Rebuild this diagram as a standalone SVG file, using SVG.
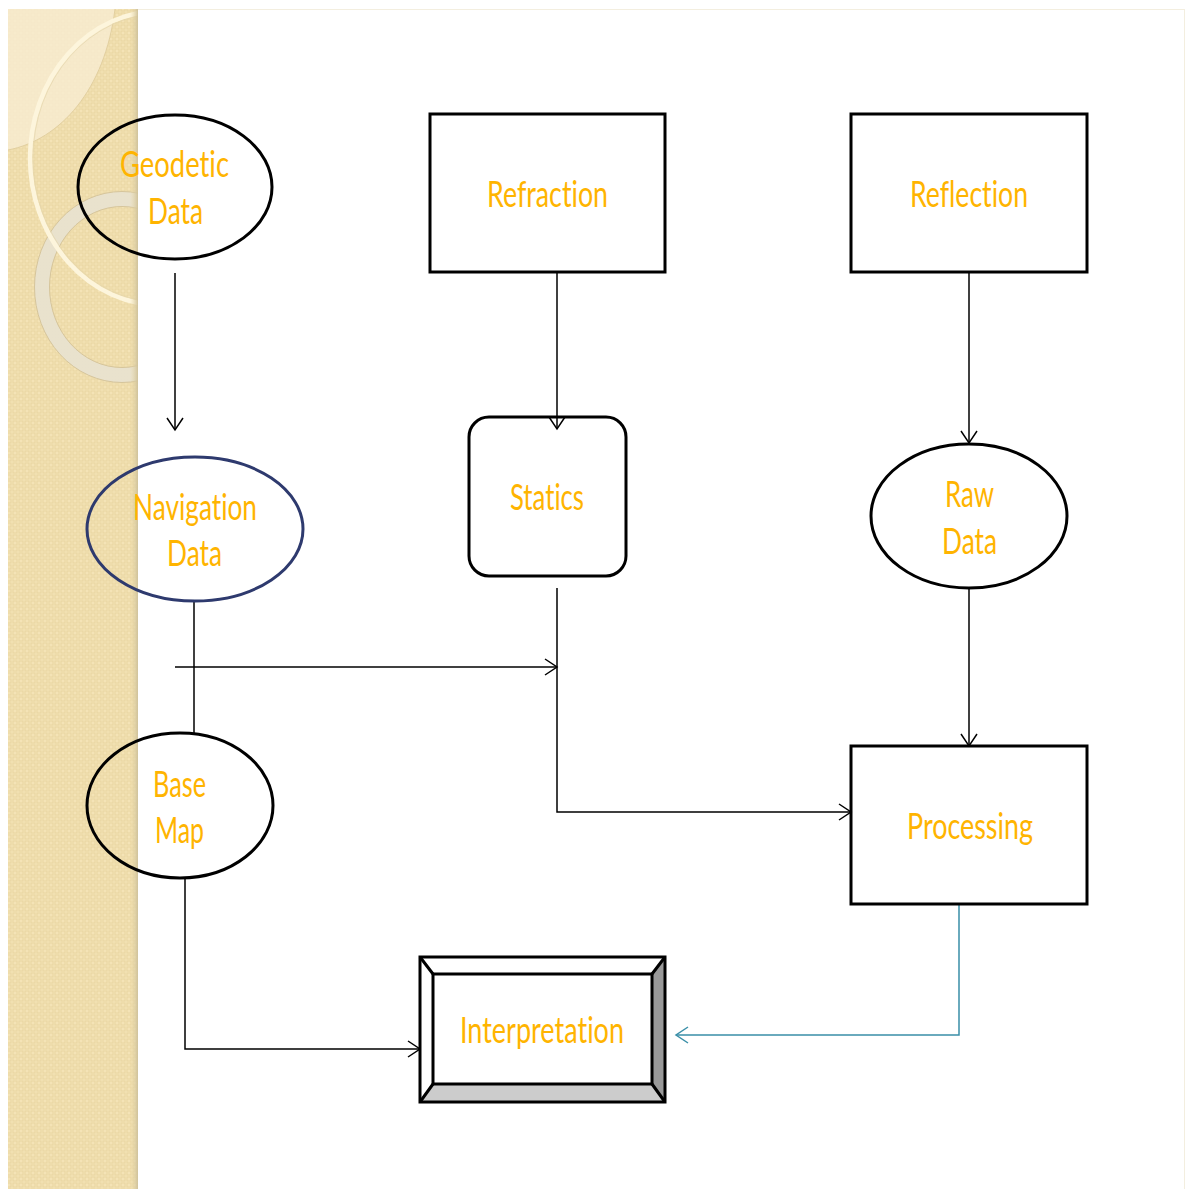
<svg xmlns="http://www.w3.org/2000/svg" width="1187" height="1189" viewBox="0 0 1187 1189">
  <style>
    .lbl { font-family: Lato, "Liberation Sans", sans-serif; font-size: 37px; fill: #ffb400; text-anchor: middle; font-variant-ligatures: none; font-feature-settings: "liga" 0, "clig" 0, "dlig" 0; }
    .shape { fill: none; stroke: #000; stroke-width: 3; }
    .conn { fill: none; stroke: #000; stroke-width: 1.5; }
    .connT { fill: none; stroke: #3a8fa8; stroke-width: 1.5; }
  </style>
  <defs>
    <pattern id="chk" width="6" height="6" patternUnits="userSpaceOnUse">
      <rect width="6" height="6" fill="#f4e3b6"/>
      <rect x="1" y="1" width="4" height="4" fill="none" stroke="#e8d49f" stroke-width="0.9"/>
    </pattern>
    <linearGradient id="edge" x1="0" y1="0" x2="1" y2="0">
      <stop offset="0" stop-color="#e9d9a8" stop-opacity="0"/>
      <stop offset="1" stop-color="#cfc29c"/>
    </linearGradient>
    <clipPath id="bandClip"><rect x="8" y="9" width="130" height="1180"/></clipPath>
    <marker id="arr" markerUnits="userSpaceOnUse" markerWidth="16" markerHeight="20" refX="13" refY="9" orient="auto">
      <path d="M1,1 L13,9 L1,17" fill="none" stroke="#000" stroke-width="1.5"/>
    </marker>
    <marker id="arrT" markerUnits="userSpaceOnUse" markerWidth="16" markerHeight="20" refX="13" refY="9" orient="auto">
      <path d="M1,1 L13,9 L1,17" fill="none" stroke="#3a8fa8" stroke-width="1.5"/>
    </marker>
  </defs>

  <rect width="1187" height="1189" fill="#ffffff"/>
  <line x1="138" y1="9.5" x2="1184" y2="9.5" stroke="#f3eedf" stroke-width="1"/>
  <line x1="1184.5" y1="9" x2="1184.5" y2="1189" stroke="#f3eedf" stroke-width="1"/>

  <g id="band" clip-path="url(#bandClip)">
    <rect x="8" y="9" width="130" height="1180" fill="url(#chk)"/>
    <path d="M8,150 C60,140 105,90 115,9 L8,9 Z" fill="#f7ecd2" opacity="0.8"/>
    <path d="M8,150 C60,140 105,90 115,9" fill="none" stroke="#e2cf9f" stroke-width="1"/>
    <ellipse cx="122" cy="287" rx="80" ry="88" fill="none" stroke="#e8e1cf" stroke-width="15" opacity="0.95"/>
    <ellipse cx="122" cy="287" rx="87.5" ry="95.5" fill="none" stroke="#d6c59b" stroke-width="1"/>
    <ellipse cx="122" cy="287" rx="72.5" ry="80.5" fill="none" stroke="#d6c59b" stroke-width="1"/>
    <ellipse cx="160" cy="158" rx="130" ry="147" fill="none" stroke="#fdf5dc" stroke-width="4.5"/>
    <ellipse cx="160" cy="158" rx="127" ry="144" fill="none" stroke="#e4d5ac" stroke-width="1" opacity="0.7"/>
    <rect x="130" y="9" width="8" height="1180" fill="url(#edge)"/>
  </g>

  <g id="connectors">
    <path class="conn" d="M175,273 V430" marker-end="url(#arr)"/>
    <path class="conn" d="M557,272 V429" marker-end="url(#arr)"/>
    <path class="conn" d="M969,272 V443" marker-end="url(#arr)"/>
    <path class="conn" d="M969,588 V746" marker-end="url(#arr)"/>
    <path class="conn" d="M194,601 V733"/>
    <path class="conn" d="M175,667 H557" marker-end="url(#arr)"/>
    <path class="conn" d="M557,588 V812 H851" marker-end="url(#arr)"/>
    <path class="conn" d="M185,878 V1049 H420" marker-end="url(#arr)"/>
    <path class="connT" d="M959,904 V1035 H676" marker-end="url(#arrT)"/>
  </g>

  <g id="geodetic">
    <ellipse class="shape" cx="175" cy="187" rx="97" ry="72"/>
    <text class="lbl" x="174.5" y="177" textLength="109" lengthAdjust="spacingAndGlyphs">Geodetic</text>
    <text class="lbl" x="175.5" y="224" textLength="55" lengthAdjust="spacingAndGlyphs">Data</text>
  </g>

  <g id="refraction">
    <rect class="shape" x="430" y="114" width="235" height="158"/>
    <text class="lbl" x="547.5" y="207" textLength="121" lengthAdjust="spacingAndGlyphs">Refraction</text>
  </g>

  <g id="reflection">
    <rect class="shape" x="851" y="114" width="236" height="158"/>
    <text class="lbl" x="969" y="207" textLength="118" lengthAdjust="spacingAndGlyphs">Reflection</text>
  </g>

  <g id="navigation">
    <ellipse cx="195" cy="529" rx="108" ry="72" fill="none" stroke="#2e3a6e" stroke-width="3"/>
    <text class="lbl" x="195" y="520" textLength="124" lengthAdjust="spacingAndGlyphs">Navigation</text>
    <text class="lbl" x="194.5" y="566" textLength="55" lengthAdjust="spacingAndGlyphs">Data</text>
  </g>

  <g id="statics">
    <rect class="shape" x="469" y="417" width="157" height="159" rx="20" ry="20"/>
    <text class="lbl" x="547" y="510" textLength="74" lengthAdjust="spacingAndGlyphs">Statics</text>
  </g>

  <g id="rawdata">
    <ellipse class="shape" cx="969" cy="516" rx="98" ry="72"/>
    <text class="lbl" x="969.5" y="507" textLength="49" lengthAdjust="spacingAndGlyphs">Raw</text>
    <text class="lbl" x="969.5" y="554" textLength="55" lengthAdjust="spacingAndGlyphs">Data</text>
  </g>

  <g id="basemap">
    <ellipse class="shape" cx="180" cy="805.5" rx="93" ry="72.5"/>
    <text class="lbl" x="179.5" y="797" textLength="53" lengthAdjust="spacingAndGlyphs">Base</text>
    <text class="lbl" x="179.5" y="843" textLength="49" lengthAdjust="spacingAndGlyphs">Map</text>
  </g>

  <g id="processing">
    <rect class="shape" x="851" y="746" width="236" height="158"/>
    <text class="lbl" x="970" y="839" textLength="126" lengthAdjust="spacingAndGlyphs">Processing</text>
  </g>

  <g id="interpretation">
    <polygon points="420,957 665,957 652,974 433,974" fill="#ffffff"/>
    <polygon points="420,957 433,974 433,1084 420,1102" fill="#ffffff"/>
    <polygon points="665,957 665,1102 652,1084 652,974" fill="#999999"/>
    <polygon points="420,1102 433,1084 652,1084 665,1102" fill="#cccccc"/>
    <rect x="433" y="974" width="219" height="110" fill="#ffffff"/>
    <rect class="shape" x="420" y="957" width="245" height="145"/>
    <rect class="shape" x="433" y="974" width="219" height="110"/>
    <path class="shape" d="M420,957 L433,974 M665,957 L652,974 M420,1102 L433,1084 M665,1102 L652,1084"/>
    <text class="lbl" x="542" y="1043" textLength="164" lengthAdjust="spacingAndGlyphs">Interpretation</text>
  </g>
</svg>
